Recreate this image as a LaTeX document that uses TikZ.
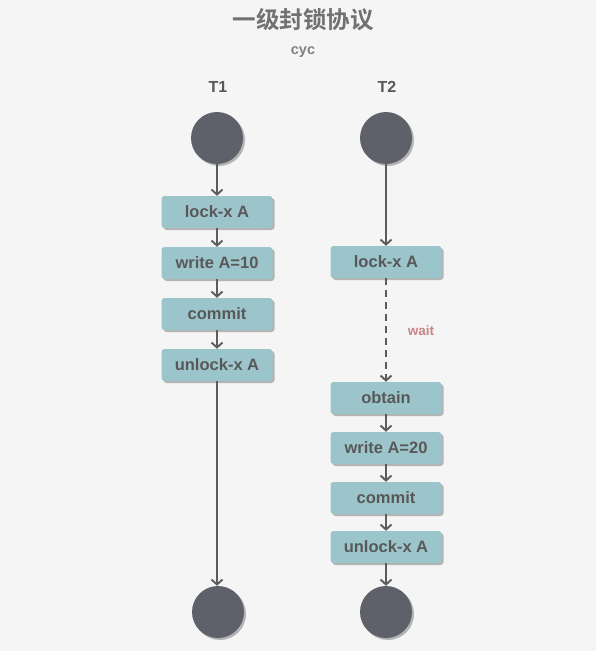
\documentclass[tikz,border=0pt]{standalone}
\usepackage{fontspec}
\setmainfont{Liberation Sans}
\newfontfamily\cjk{Noto Sans CJK SC}[BoldFont={* Bold}]
\usetikzlibrary{arrows.meta,shadows}
\definecolor{bgc}{HTML}{F5F5F5}
\definecolor{boxc}{HTML}{9CC5CB}
\definecolor{circc}{HTML}{5E6169}
\definecolor{txtc}{HTML}{585858}
\definecolor{arrc}{HTML}{5C5C5C}
\definecolor{waitc}{HTML}{C98585}
\definecolor{shc}{HTML}{B4B4B4}
\tikzset{
  stepbox/.style={rectangle, rounded corners=3pt, fill=boxc, minimum width=111pt, minimum height=32pt,
    inner sep=0pt, font=\fontsize{16.5}{18}\selectfont\bfseries, text=txtc,
    drop shadow={shadow xshift=2pt, shadow yshift=-2pt, fill=shc, opacity=1}},
  endpt/.style={circle, fill=circc, minimum size=52pt, inner sep=0pt,
    drop shadow={shadow xshift=2pt, shadow yshift=-2pt, fill=shc, opacity=1}},
  flow/.style={draw=arrc, line width=1.9pt, -{Straight Barb[length=5pt,width=11pt]}},
  lane/.style={font=\fontsize{16}{18}\selectfont\bfseries, text=txtc}
}
\begin{document}
\begin{tikzpicture}[x=1pt,y=-1pt]
\fill[bgc] (0,0) rectangle (596,651);
\useasboundingbox (0,0) rectangle (596,651);
\node[font=\cjk\fontsize{23.5}{26}\selectfont\bfseries, text=txtc!85] (title) at (303,20) {一级封锁协议};
\node[font=\fontsize{14.5}{16}\selectfont\bfseries, text=txtc!75] (author) at (303,52) {cyc};
\node[lane] (t1) at (218,87) {T1};
\node[lane] (t2) at (387,87) {T2};
% T1
\node[endpt] (s1) at (217,138) {};
\node[stepbox] (a1) at (217,212) {lock-x A};
\node[stepbox] (a2) at (217,263) {write A=10};
\node[stepbox] (a3) at (217,314) {commit};
\node[stepbox] (a4) at (217,365) {unlock-x A};
\node[endpt] (e1) at (218,612) {};
% T2
\node[endpt] (s2) at (386,138) {};
\node[stepbox] (b1) at (386,262) {lock-x A};
\node[stepbox] (b2) at (386,398) {obtain};
\node[stepbox] (b3) at (386,448) {write A=20};
\node[stepbox] (b4) at (386,498) {commit};
\node[stepbox] (b5) at (386,547) {unlock-x A};
\node[endpt] (e2) at (386,612) {};
\node[font=\fontsize{13.5}{15}\selectfont\bfseries, text=waitc] (wait) at (421,331) {wait};
% connectors
\draw[flow] (s1) -- (a1);
\draw[flow] (a1) -- (a2);
\draw[flow] (a2) -- (a3);
\draw[flow] (a3) -- (a4);
\draw[flow] (a4) -- (a4 |- e1.north);
\draw[flow] (s2) -- (b1);
\draw[flow, dash pattern=on 7pt off 5pt] (b1) -- (b2);
\draw[flow] (b2) -- (b3);
\draw[flow] (b3) -- (b4);
\draw[flow] (b4) -- (b5);
\draw[flow] (b5) -- (e2);
\end{tikzpicture}
\end{document}
